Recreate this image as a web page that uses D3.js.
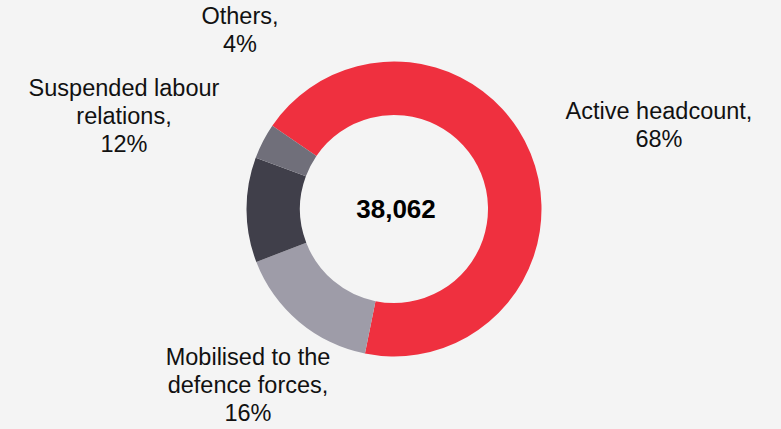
<!DOCTYPE html>
<html>
<head>
<meta charset="utf-8">
<script src="https://cdn.jsdelivr.net/npm/d3@7"></script>
<style>
  html, body { margin:0; padding:0; background:#f4f4f4; }
  svg { display:block; }
</style>
</head>
<body>
<div class="top"></div>
<script>
// data (slice sizes estimated from the ring, labels are rounded)
const categories = ['Active headcount', 'Mobilised to the defence forces', 'Suspended labour relations', 'Others'];
const shares = [68.6, 16.0, 11.5, 3.9];
const totalLabel = '38,062';

// label lines as they wrap in the reference
const labelLines = [
  ['Active headcount,', '68%'],
  ['Mobilised to the', 'defence forces,', '16%'],
  ['Suspended labour', 'relations,', '12%'],
  ['Others,', '4%']
];

const colors = ['#ef303f', '#9e9ca8', '#403f4a', '#706f7a'];

// layout
const W = 781, H = 429;
const cx = 394, cy = 209, rOuter = 147.5, rInner = 94;
const start = -55.6 * Math.PI / 180;
const labelAt = [ [659, 119], [248, 365], [124, 96], [240, 24] ];
const lineH = 27.8;

const rows = categories.map((c, i) => ({ name: c, value: shares[i], lines: labelLines[i], pos: labelAt[i] }));

const pie = d3.pie().value(d => d.value).sort(null)
  .startAngle(start).endAngle(start + 2 * Math.PI);
const arc = d3.arc().innerRadius(rInner).outerRadius(rOuter);
const color = d3.scaleOrdinal().domain(categories).range(colors);

const svg = d3.select('.top')
  .selectChildren('svg').data([1])
    .join('svg')
      .attr('width', W)
      .attr('height', H)
      .style('background', '#f4f4f4')
      .style('font-family', '"Liberation Sans", Arial, sans-serif');

svg.selectChildren('.donut').data([1])
  .join('g').attr('class', 'donut')
    .attr('transform', `translate(${cx},${cy})`)
    .call(sel => {

      sel.selectAll('path').data(pie(rows))
        .join('path')
          .attr('d', arc)
          .attr('fill', d => color(d.data.name));

      sel.selectChildren('text').data([totalLabel])
        .join('text')
          .attr('x', 2)
          .attr('y', 9)
          .attr('text-anchor', 'middle')
          .style('font-size', '26px')
          .style('font-weight', 'bold')
          .style('fill', '#000')
          .text(d => d);

    });

svg.selectChildren('.labels').data([1])
  .join('g').attr('class', 'labels')
    .selectAll('text').data(rows)
      .join('text')
        .attr('text-anchor', 'middle')
        .attr('x', d => d.pos[0])
        .attr('y', d => d.pos[1])
        .style('font-size', '23.5px')
        .style('fill', '#111')
        .call(sel => {
          sel.selectAll('tspan').data(d => d.lines.map(l => ({ t: l, x: d.pos[0] })))
            .join('tspan')
              .attr('x', d => d.x)
              .attr('dy', (d, i) => i ? lineH : 0)
              .text(d => d.t);
        });
</script>
</body>
</html>
